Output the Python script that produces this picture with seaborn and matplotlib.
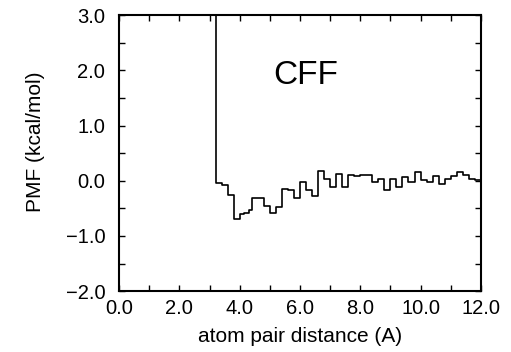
import matplotlib
matplotlib.use("Agg")
import matplotlib.pyplot as plt
import seaborn as sns
from matplotlib.ticker import MultipleLocator, FuncFormatter

# bin left edges (A) and PMF values (kcal/mol)
distance = [3.0, 3.2, 3.4, 3.6, 3.8, 4.0, 4.15, 4.3, 4.4, 4.8, 5.0, 5.2, 5.4,
            5.6, 5.8, 6.0, 6.2, 6.4, 6.6, 6.8, 7.0, 7.2, 7.4, 7.6, 7.8, 8.0,
            8.4, 8.6, 8.8, 9.0, 9.2, 9.4, 9.6, 9.8, 10.0, 10.2, 10.4, 10.6,
            10.8, 11.0, 11.2, 11.4, 11.6, 11.8, 12.0]
pmf = [5.0, -0.04, -0.07, -0.26, -0.70, -0.61, -0.58, -0.53, -0.32, -0.46,
       -0.58, -0.47, -0.15, -0.17, -0.31, -0.02, -0.16, -0.28, 0.17, 0.04,
       -0.11, 0.12, -0.11, 0.10, 0.09, 0.10, -0.02, 0.04, -0.17, 0.04, -0.11,
       0.07, -0.03, 0.15, 0.01, -0.02, 0.09, -0.06, 0.04, 0.09, 0.15, 0.10,
       0.03, 0.01, 0.01]

sns.set_style("ticks")
plt.rcParams['font.family'] = ['Liberation Sans', 'DejaVu Sans']
plt.rcParams['text.color'] = 'black'
plt.rcParams['axes.labelcolor'] = 'black'
plt.rcParams['axes.edgecolor'] = 'black'
plt.rcParams['xtick.color'] = 'black'
plt.rcParams['ytick.color'] = 'black'

fig = plt.figure(figsize=(5.11, 3.52), dpi=100)
ax = fig.add_axes([0.233, 0.173, 0.708, 0.784])

sns.lineplot(x=distance, y=pmf, drawstyle='steps-post', color='black',
             linewidth=1.2, ax=ax, sort=False, estimator=None)

fmt = FuncFormatter(lambda v, p: ('%.1f' % v).replace('-', '\u2212'))

ax.set_xlim(0, 12)
ax.set_ylim(-2, 3)
ax.xaxis.set_major_locator(MultipleLocator(2))
ax.xaxis.set_minor_locator(MultipleLocator(1))
ax.yaxis.set_major_locator(MultipleLocator(1))
ax.yaxis.set_minor_locator(MultipleLocator(0.5))
ax.xaxis.set_major_formatter(fmt)
ax.yaxis.set_major_formatter(fmt)
ax.tick_params(which='both', direction='in', top=True, right=True,
               length=4, width=1, labelsize=14.5)
ax.tick_params(axis='x', pad=6)
ax.tick_params(axis='y', pad=10)
for s in ax.spines.values():
    s.set_linewidth(1.5)

ax.set_xlabel('atom pair distance (A)', fontsize=15, labelpad=6)
ax.set_ylabel('PMF (kcal/mol)', fontsize=15)
ax.yaxis.set_label_coords(-0.205, 0.54)
ax.text(6.2, 1.91, 'CFF', fontsize=24, ha='center', va='center')

fig.savefig('out.png', dpi=100)
